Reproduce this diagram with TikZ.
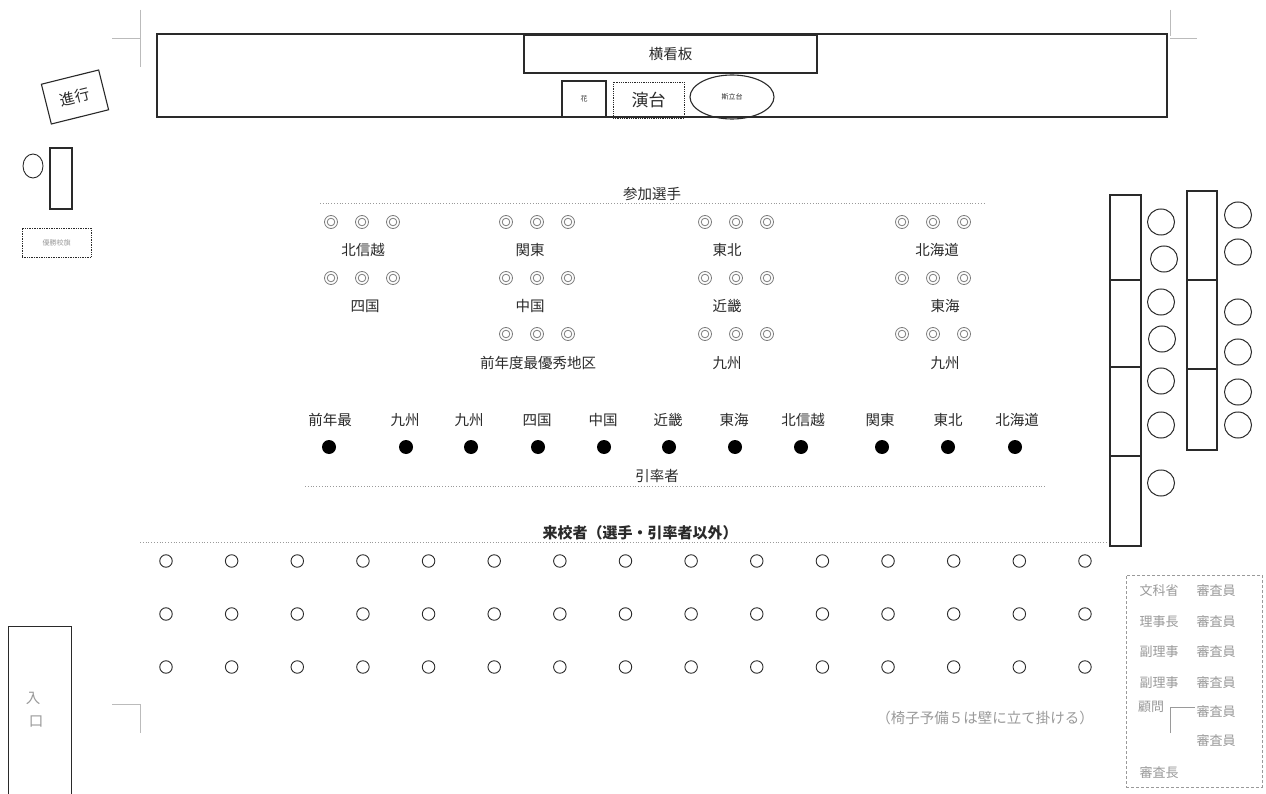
\documentclass[tikz,border=0pt]{standalone}
\usepackage{fontspec}
\setmainfont{Noto Sans CJK JP}
\newfontfamily\jp{Noto Sans CJK JP}
\usetikzlibrary{shapes.geometric}
\definecolor{ink}{HTML}{2A2A2A}
\definecolor{soft}{HTML}{9A9A9A}
\definecolor{mark}{HTML}{BBBBBB}
\tikzset{
  lbl/.style={font=\jp\fontsize{14.5}{15}\selectfont, text=ink, inner sep=0pt},
  small/.style={font=\jp\fontsize{7}{7}\selectfont, text=ink, inner sep=0pt},
  greytxt/.style={font=\jp\fontsize{13}{13}\selectfont, text=soft, inner sep=0pt},
  boxline/.style={draw=ink, line width=1.1pt},
  dotline/.style={draw=soft, line width=0.8pt, dotted},
  dbl/.style={draw=soft!80!black, line width=0.8pt},
  seat/.style={circle, draw=ink, line width=0.9pt, minimum size=12.5pt, inner sep=0pt},
  bigseat/.style={ellipse, draw=ink, line width=1pt, minimum width=27pt, minimum height=26pt, inner sep=0pt},
  leader/.style={circle, fill=black, minimum size=14pt, inner sep=0pt},
  cropmark/.style={draw=mark, line width=0.6pt}
}
\begin{document}
\begin{tikzpicture}[x=1pt,y=-1pt]
\useasboundingbox (0,0) rectangle (1266,794);
\fill[white] (0,0) rectangle (1266,794);

% crop marks
\draw[cropmark] (140,10) -- (140,67);
\draw[cropmark] (112,38) -- (140,38);
\draw[cropmark] (1170,10) -- (1170,36);
\draw[cropmark] (1170,38) -- (1197,38);
\draw[cropmark] (112,704) -- (140,704) -- (140,733);

% stage
\node[boxline, draw, minimum width=1010pt, minimum height=83pt, inner sep=0pt] (stage) at (662,75.5) {};
\node[boxline, draw, minimum width=293pt, minimum height=38pt, lbl] (kanban) at (670.5,54) {横看板};
\node[boxline, draw, minimum width=44pt, minimum height=36pt, small] (hana) at (584,99) {花};
\node[draw=ink, line width=0.8pt, densely dotted, minimum width=71pt, minimum height=36pt, font=\jp\fontsize{17}{17}\selectfont, text=ink, inner sep=0pt] (endai) at (648.5,100) {演台};
\node[ellipse, boxline, draw, minimum width=84pt, minimum height=44pt, small] (dai) at (732,97) {斯立台};

% left side
\node[boxline, draw, minimum width=59pt, minimum height=41pt, rotate=14, inner sep=0pt] (shinkobox) at (75,97) {};
\node[rotate=14, font=\jp\fontsize{15}{15}\selectfont, text=ink, inner sep=0pt] (shinko) at (shinkobox.center) {進行};
\node[ellipse, draw=ink, line width=0.9pt, minimum width=20pt, minimum height=24pt, inner sep=0pt] (lseat) at (33,166) {};
\node[boxline, draw, minimum width=22pt, minimum height=61pt, inner sep=0pt] (ldesk) at (61,178.5) {};
\node[draw=ink, line width=0.7pt, densely dotted, minimum width=69pt, minimum height=29pt, small, text=soft] (flag) at (56.5,242.5) {優勝校旗};

% participants
\node[lbl] (sanka) at (652,194) {参加選手};
\coordinate (sL) at (320,203);
\coordinate (sR) at (985,203);
\draw[dotline] (sL) -- (sR);

\foreach \gx/\rows [count=\g] in {362/2,537/3,736/3,933/3}{
  \foreach \r in {1,...,\rows}{
    \pgfmathsetmacro{\yy}{222+(\r-1)*56}
    \foreach \dx in {-31,0,31}{
      \draw[dbl] (\gx+\dx,\yy) circle (6.5pt);
      \draw[dbl] (\gx+\dx,\yy) circle (3.8pt);
    }
  }
}
\node[lbl] (g1a) at (363,250) {北信越};
\node[lbl] (g2a) at (530,250) {関東};
\node[lbl] (g3a) at (727,250) {東北};
\node[lbl] (g4a) at (937,250) {北海道};
\node[lbl] (g1b) at (365,306) {四国};
\node[lbl] (g2b) at (530,306) {中国};
\node[lbl] (g3b) at (727,306) {近畿};
\node[lbl] (g4b) at (945,306) {東海};
\node[lbl] (g2c) at (538,363) {前年度最優秀地区};
\node[lbl] (g3c) at (727,363) {九州};
\node[lbl] (g4c) at (945,363) {九州};

% leaders
\foreach \x/\lx/\t [count=\i] in {329/330/前年最,406/405/九州,471/469/九州,538/537/四国,604/603/中国,669/668/近畿,735/734/東海,801/803/北信越,882/880/関東,948/948/東北,1015/1017/北海道}{
  \node[lbl] (lt\i) at (\lx,420) {\t};
  \node[leader] (ld\i) at (\x,447) {};
}
\node[lbl] (inrit) at (657,476) {引率者};
\coordinate (iL) at (305,486);
\coordinate (iR) at (1045,486);
\draw[dotline] (iL) -- (iR);

% guests
\node[lbl, font=\jp\bfseries\fontsize{15}{15}\selectfont] (raiko) at (640,533) {来校者（選手・引率者以外）};
\coordinate (rL) at (140,542);
\coordinate (rR) at (1110,542);
\draw[dotline] (rL) -- (rR);
\foreach \r/\yy in {1/561,2/614,3/667}{
  \foreach \c in {0,...,14}{
    \node[seat] (gs\r-\c) at ({166+\c*65.64},\yy) {};
  }
}
\node[greytxt, font=\jp\fontsize{14.5}{15}\selectfont] (note) at (985,718) {（椅子予備５は壁に立て掛ける）};

% entrance
\draw[draw=ink, line width=0.8pt] (8,794) -- (8,626) -- (71,626) -- (71,794);
\node[lbl, text=soft] (iri) at (33,698) {入};
\node[lbl, text=soft] (kuchi) at (36,722) {口};

% right tables
\foreach \a/\b [count=\i] in {195/280,280/367,367/456,456/546}{
  \node[boxline, draw, minimum width=31pt, minimum height={\b-\a}, inner sep=0pt] (tl\i) at (1125.5,{(\a+\b)/2}) {};
}
\foreach \a/\b [count=\i] in {191/280,280/369,369/450}{
  \node[boxline, draw, minimum width=30pt, minimum height={\b-\a}, inner sep=0pt] (tr\i) at (1202,{(\a+\b)/2}) {};
}
\foreach \x/\y [count=\i] in {1161/222,1164/259,1161/302,1162/339,1161/381,1161/425,1161/483}{
  \node[bigseat] (cl\i) at (\x,\y) {};
}
\foreach \x/\y [count=\i] in {1238/215,1238/252,1238/312,1238/352,1238/392,1238/425}{
  \node[bigseat] (cr\i) at (\x,\y) {};
}

% guest list box
\node[draw=soft, line width=0.8pt, densely dashed, minimum width=136pt, minimum height=212pt, inner sep=0pt] (vip) at (1194,681) {};
\foreach \t/\y [count=\i] in {文科省/591,理事長/622,副理事/652,副理事/683}{
  \node[greytxt] (vl\i) at (1159,\y) {\t};
}
\node[greytxt] (vl5) at (1151,707) {顧問};
\node[greytxt] (vl6) at (1159,773) {審査長};
\foreach \y [count=\i] in {591,622,652,683,712,741}{
  \node[greytxt] (vr\i) at (1216,\y) {審査員};
}
\coordinate (kA) at (1170,707);
\coordinate (kB) at (1170,733);
\coordinate (kC) at (1195,707);
\draw[draw=soft, line width=0.6pt] (kB) -- (kA) -- (kC);
\end{tikzpicture}
\end{document}
